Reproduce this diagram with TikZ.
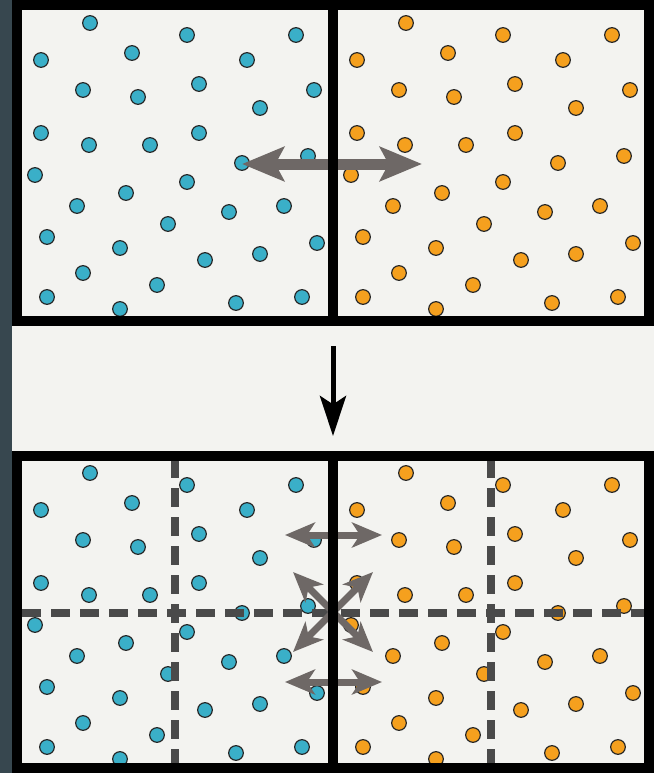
\documentclass[tikz,border=0pt]{standalone}
\usepackage{tikz}
\usetikzlibrary{arrows.meta, calc, positioning}

\definecolor{slate}{HTML}{37474F}
\definecolor{paper}{HTML}{F3F3F0}
\definecolor{blueDot}{HTML}{3AAFC8}
\definecolor{orangeDot}{HTML}{F5A01E}
\definecolor{pushGray}{HTML}{6E6866}
\definecolor{cutGray}{HTML}{4A4A4A}

\begin{document}
\begin{tikzpicture}[x=0.3mm, y=-0.3mm,
    frame/.style={draw=black, line width=3mm},
    cutline/.style={draw=cutGray, line width=2.4mm, dash pattern=on 5.7mm off 3mm},
    particle/.style={draw=black!85, line width=0.35mm},
    bigpush/.style={draw=pushGray, line width=3.3mm,
      {Stealth[length=12.6mm, width=10.2mm, inset=2.6mm]}-{Stealth[length=12.6mm, width=10.2mm, inset=2.6mm]}},
    smallpush/.style={draw=pushGray, line width=2.1mm,
      {Stealth[length=9mm, width=7.5mm, inset=2.4mm]}-{Stealth[length=9mm, width=7.5mm, inset=2.4mm]}},
    droparrow/.style={draw=black, line width=1.5mm, -{Stealth[length=12mm, width=7.8mm, inset=2.5mm]}}]

    % Page and left strip
    \useasboundingbox (0,0) rectangle (654,773);
    \fill[slate] (0,0) rectangle (654,773);
    \fill[paper] (12,0) rectangle (654,773);

    % Particles: same scatter in each half, blue left, orange right
    \foreach \dx/\dy/\col in {0/0/blueDot, 316/0/orangeDot, 0/450/blueDot, 316/450/orangeDot} {
      \foreach \px/\py in {90/23, 187/35, 296/35, 41/60, 132/53, 247/60, 83/90, 138/97, 199/84,
          314/90, 260/108, 41/133, 89/145, 150/145, 199/133, 242/163, 308/156, 35/175,
          187/182, 126/193, 77/206, 229/212, 284/206, 168/224, 47/237, 120/248, 317/243,
          205/260, 260/254, 83/273, 157/285, 47/297, 120/309, 236/303, 302/297} {
        \filldraw[particle, fill=\col] (\px+\dx, \py+\dy) circle (2.2mm);
      }
    }

    % Cell cuts in the lower box
    \draw[cutline] (22,613) -- (645,613);
    \draw[cutline] (175,459) -- (175,765);
    \draw[cutline] (491,459) -- (491,765);

    % Exchange across the wall (upper box)
    \coordinate (mixL) at (242,164);
    \coordinate (mixR) at (422,164);
    \draw[bigpush] (mixL) -- (mixR);

    % Exchange across the wall (lower box)
    \coordinate (hiL) at (285,535);
    \coordinate (hiR) at (382,535);
    \coordinate (loL) at (285,682);
    \coordinate (loR) at (382,682);
    \coordinate (xNW) at (293,572);
    \coordinate (xNE) at (373,572);
    \coordinate (xSW) at (293,652);
    \coordinate (xSE) at (373,652);
    \draw[smallpush] (hiL) -- (hiR);
    \draw[smallpush] (loL) -- (loR);
    \draw[smallpush] (xNW) -- (xSE);
    \draw[smallpush] (xNE) -- (xSW);

    % Boxes with the wall
    \draw[frame] (17,5) rectangle (649,321);
    \draw[frame] (333,5) -- (333,321);
    \draw[frame] (17,456) rectangle (649,768);
    \draw[frame] (333,456) -- (333,768);

    % Step arrow
    \coordinate (stepTop) at (333,346);
    \coordinate (stepEnd) at (333,436);
    \draw[droparrow] (stepTop) -- (stepEnd);
  \end{tikzpicture}
\end{document}
